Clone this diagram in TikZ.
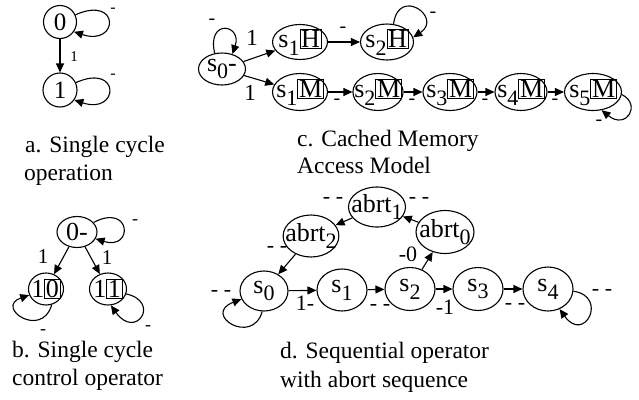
\documentclass[tikz,border=0pt]{standalone}
\usepackage{fontspec}
\setmainfont{Liberation Serif}
\usetikzlibrary{shapes.geometric,arrows.meta}
\newcommand\sbs[1]{\raisebox{-0.3em}{\fontsize{22}{22}\selectfont #1}}
\newcommand\bx[1]{{\setlength\fboxsep{0.6pt}\setlength\fboxrule{1pt}\fbox{#1}}}
\newcommand\fs[1]{\fontsize{#1}{#1}\selectfont}
\begin{document}
\begin{tikzpicture}[x=1pt,y=-1pt,
  st/.style={draw, ellipse, line width=1.1pt, inner xsep=-6pt, inner ysep=-3pt, font=\fs{26}},
  cst/.style={draw, circle, line width=1.1pt, inner sep=0pt, font=\fs{25}},
  arr/.style={-{Triangle[length=9pt,width=8pt]}, line width=1.1pt},
  lab/.style={inner sep=0pt, font=\fs{22}},
  captxt/.style={anchor=base west, inner sep=0pt, font=\fs{23.5}}]
\useasboundingbox (0,0) rectangle (639,399);

% ---------- a ----------
\node[cst, minimum size=33pt] (A0) at (60,22) {0};
\node[cst, minimum size=34pt] (A1) at (60,90) {1};
\draw[arr] (A0) -- (A1);
\node[lab, font=\fs{15}] (la) at (74,57) {1};
\draw[arr] (A0.25) .. controls +(45,-20) and +(45,15) .. (A0.-35);
\draw[arr] (A1.25) .. controls +(45,-20) and +(45,15) .. (A1.-35);
\node[lab, font=\fs{16}] (la0) at (113,10) {-};
\node[lab, font=\fs{16}] (la1) at (113,76) {-};
\node[captxt] (capa1) at (25,152) {a. Single cycle};
\node[captxt] (capa2) at (24,180) {operation};

% ---------- b ----------
\node[st, minimum width=40pt, minimum height=31pt] (B0) at (77,232) {0-};
\node[st, minimum width=35pt, minimum height=32pt] (B1) at (46,289) {1\bx{0}};
\node[st, minimum width=37pt, minimum height=32pt] (B2) at (108,289) {1\bx{1}};
\draw[arr] (B0) -- (B1);
\draw[arr] (B0) -- (B2);
\node[lab, font=\fs{21}] (lb1) at (43,257) {1};
\node[lab, font=\fs{21}] (lb2) at (107,258) {1};
\draw[arr] (B0.30) .. controls +(38,-20) and +(38,12) .. (B0.-20);
\draw[arr] (B1.-70) .. controls +(-10,35) and +(-35,12) .. (B1.200);
\draw[arr] (B2.-15) .. controls +(35,8) and +(25,35) .. (B2.-80);
\node[lab, font=\fs{18}] (lb0) at (135,222) {-};
\node[lab, font=\fs{18}] (lb3) at (43,332) {-};
\node[lab, font=\fs{18}] (lb4) at (148,328) {-};
\node[captxt] (capb1) at (12,357) {b. Single cycle};
\node[captxt] (capb2) at (12,385) {control operator};

% ---------- c ----------
\node[st, minimum width=47pt, minimum height=32pt] (C0) at (222,69) {s\sbs{0}-};
\node[st, minimum width=55pt, minimum height=35pt] (C1H) at (300,42) {s\sbs{1}\bx{H}};
\node[st, minimum width=53pt, minimum height=36pt] (C2H) at (387,42) {s\sbs{2}\bx{H}};
\node[st, minimum width=55pt, minimum height=37pt] (C1M) at (300,92) {s\sbs{1}\bx{M}};
\node[st, minimum width=50pt, minimum height=37pt] (C2M) at (378,92) {s\sbs{2}\bx{M}};
\node[st, minimum width=54pt, minimum height=37pt] (C3M) at (450,92) {s\sbs{3}\bx{M}};
\node[st, minimum width=52pt, minimum height=37pt] (C4M) at (521,92) {s\sbs{4}\bx{M}};
\node[st, minimum width=57pt, minimum height=37pt] (C5M) at (593,92) {s\sbs{5}\bx{M}};
\draw[arr] (C0) -- (C1H);
\draw[arr] (C0) -- (C1M);
\draw[arr] (C1H) -- (C2H);
\draw[arr] (C1M) -- (C2M);
\draw[arr] (C2M) -- (C3M);
\draw[arr] (C3M) -- (C4M);
\draw[arr] (C4M) -- (C5M);
\draw[arr] (C0.115) .. controls +(-8,-35) and +(10,-30) .. (C0.55);
\draw[arr] (C2H.70) .. controls +(5,-38) and +(30,-20) .. (C2H.10);
\draw[arr] (C5M.-5) .. controls +(20,10) and +(25,20) .. (C5M.-65);
\node[lab, font=\fs{23}] (lc1) at (252,38) {1};
\node[lab, font=\fs{23}] (lc2) at (250,93) {1};
\node[lab, font=\fs{20}] (lc3) at (212,22) {-};
\node[lab, font=\fs{20}] (lc4) at (343,30) {-};
\node[lab, font=\fs{20}] (lc5) at (433,15) {-};
\node[lab, font=\fs{20}] (lc6) at (337,102) {-};
\node[lab, font=\fs{20}] (lc7) at (412,102) {-};
\node[lab, font=\fs{20}] (lc8) at (485,102) {-};
\node[lab, font=\fs{20}] (lc9) at (555,102) {-};
\node[lab, font=\fs{20}] (lc10) at (599,123) {-};
\node[captxt] (capc1) at (297,146) {c. Cached Memory};
\node[captxt] (capc2) at (297,173) {Access Model};

% ---------- d ----------
\node[st, minimum width=48pt, minimum height=40pt] (D0) at (264,291) {s\sbs{0}};
\node[st, minimum width=50pt, minimum height=42pt] (D1) at (342,290) {s\sbs{1}};
\node[st, minimum width=50pt, minimum height=43pt] (D2) at (410,289) {s\sbs{2}};
\node[st, minimum width=50pt, minimum height=43pt] (D3) at (478,289) {s\sbs{3}};
\node[st, minimum width=50pt, minimum height=44pt] (D4) at (548,289) {s\sbs{4}};
\node[st, minimum width=52pt, minimum height=42pt] (E2) at (311,236) {abrt\sbs{2}};
\node[st, minimum width=57pt, minimum height=40pt] (E1) at (377,207) {abrt\sbs{1}};
\node[st, minimum width=58pt, minimum height=43pt] (E0) at (445,232) {abrt\sbs{0}};
\draw[arr] (D0) -- (D1);
\draw[arr] (D1) -- (D2);
\draw[arr] (D2) -- (D3);
\draw[arr] (D3) -- (D4);
\draw[arr] (D2) -- (E0);
\draw[arr] (E0) -- (E1);
\draw[arr] (E1) -- (E2);
\draw[arr] (E2) -- (D0);
\draw[arr] (D0.-95) .. controls +(-10,35) and +(-40,15) .. (D0.200);
\draw[arr] (D4.-5) .. controls +(35,5) and +(25,35) .. (D4.-60);
\node[lab] (ld1) at (221,293) {- -};
\node[lab] (ld2) at (305,303) {1-};
\node[lab] (ld3) at (380,307) {- -};
\node[lab] (ld4) at (445,307) {-1};
\node[lab] (ld5) at (515,306) {- -};
\node[lab] (ld6) at (602,292) {- -};
\node[lab] (ld7) at (408,254) {-0};
\node[lab] (ld8) at (419,200) {- -};
\node[lab] (ld9) at (333,200) {- -};
\node[lab] (ld10) at (277,249) {- -};
\node[captxt] (capd1) at (280,358) {d. Sequential operator};
\node[captxt] (capd2) at (280,387) {with abort sequence};
\end{tikzpicture}
\end{document}
